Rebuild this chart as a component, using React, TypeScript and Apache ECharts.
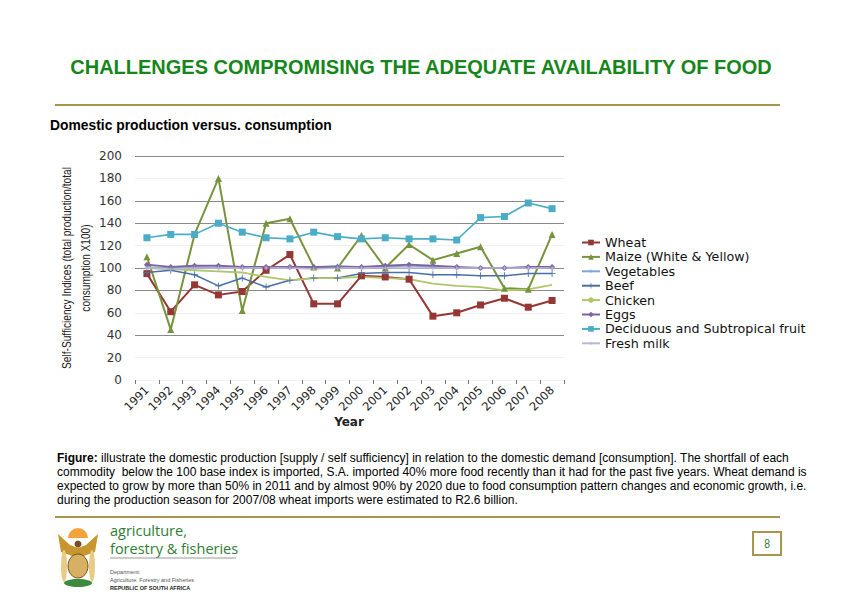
import React, { useEffect, useRef } from "react";
import * as echarts from "echarts";

const years = ["1991","1992","1993","1994","1995","1996","1997","1998","1999","2000","2001","2002","2003","2004","2005","2006","2007","2008"];
const yTicks = [0, 20, 40, 60, 80, 100, 120, 140, 160, 180, 200];

const wheat = [95, 61, 85, 76, 79, 98, 112, 68, 68, 93, 92, 90, 57, 60, 67, 73, 65, 71];
const maize = [110, 45, 130, 180, 62, 140, 144, 101, 100, 129, 100, 121, 107, 113, 119, 82, 81, 130];
const vegetables = [101, 100, 101, 100, 100, 101, 101, 101, 102, 101, 101, 102, 101, 100, 100, 100, 100, 101];
const beef = [96, 98, 94, 84, 91, 83, 89, 91, 91, 95, 96, 96, 94, 94, 93, 93, 95, 95];
const chicken = [100, 99, 98, 97, 96, 92, 89, 91, 91, 92, 91, 90, 86, 84, 83, 80, 81, 85];
const eggs = [103, 101, 102, 102, 101, 101, 101, 101, 101, 101, 102, 103, 102, 101, 100, 100, 101, 101];
const deciduous = [127, 130, 130, 140, 132, 127, 126, 132, 128, 126, 127, 126, 126, 125, 145, 146, 158, 153];
const freshMilk = [100, 99, 100, 100, 100, 100, 100, 99, 100, 100, 100, 100, 100, 100, 100, 100, 100, 100];

const captionLines = [
  "illustrate the domestic production [supply / self sufficiency] in relation to the domestic demand [consumption]. The shortfall of each",
  "commodity  below the 100 base index is imported, S.A. imported 40% more food recently than it had for the past five years. Wheat demand is",
  "expected to grow by more than 50% in 2011 and by almost 90% by 2020 due to food consumption pattern changes and economic growth, i.e.",
  "during the production season for 2007/08 wheat imports were estimated to R2.6 billion.",
];

const STAR = "path://M5,0L5.7,4.3L10,5L5.7,5.7L5,10L4.3,5.7L0,5L4.3,4.3Z M1.5,1.5L5.4,4.6L8.5,1.5L5.4,5.4L8.5,8.5L4.6,5.4L1.5,8.5L4.6,4.6Z";
const PLUS = "path://M4.4,0L5.6,0L5.6,4.4L10,4.4L10,5.6L5.6,5.6L5.6,10L4.4,10L4.4,5.6L0,5.6L0,4.4L4.4,4.4Z";

const SANS = "'Liberation Sans', Arial, sans-serif";
const WIDE = "'DejaVu Sans', Verdana, sans-serif";
const TAN = "#A89550";

export default function App() {
  const ref = useRef<HTMLDivElement>(null);
  useEffect(() => {
    if (!ref.current) return;
    const chart = echarts.init(ref.current, undefined, { renderer: "svg" });
    const gridColors = yTicks.map((v) => ([40, 80, 100, 140, 160, 200].includes(v) ? "#8a8a8a" : "#f0f0f0"));

    const mk = (name: string, data: number[], color: string, symbol: string, size: number, width: number) => ({
      name,
      type: "line",
      data,
      symbol,
      symbolSize: size,
      showSymbol: symbol !== "none",
      itemStyle: { color },
      lineStyle: { color, width },
      emphasis: { disabled: true },
    });

    const text = (t: string, x: number, y: number, o: any = {}) => ({
      type: "text",
      x,
      y,
      rotation: o.rotation || 0,
      scaleX: o.scaleX || 1,
      silent: true,
      style: {
        text: t,
        fill: o.fill || "#000",
        fontSize: o.fontSize || 12,
        fontWeight: o.fontWeight || "normal",
        fontFamily: o.fontFamily || SANS,
        align: o.align || "left",
        verticalAlign: o.verticalAlign || "middle",
      },
    });

    const cap = { fontSize: 12.5, scaleX: 0.96 };

    const graphics: any[] = [
      text("CHALLENGES COMPROMISING THE ADEQUATE AVAILABILITY OF FOOD", 421, 67, { fill: "#16861A", fontSize: 20, fontWeight: "bold", align: "center", scaleX: 1.0 }),
      { type: "line", silent: true, shape: { x1: 55, y1: 105, x2: 780, y2: 105 }, style: { stroke: TAN, lineWidth: 2 } },
      text("Domestic production versus. consumption", 50, 125, { fontSize: 14, fontWeight: "bold", scaleX: 0.99 }),
      text("Self-Sufficiency Indices (total production/total", 66, 268, { rotation: Math.PI / 2, align: "center", fontSize: 13, scaleX: 0.78, fill: "#222" }),
      text("consumption X100)", 85, 268, { rotation: Math.PI / 2, align: "center", fontSize: 13, scaleX: 0.78, fill: "#222" }),
      text("Year", 349, 422, { align: "center", fontSize: 12, fontWeight: "bold", fontFamily: WIDE, fill: "#222" }),
      text("Figure:", 57, 458, { ...cap, fontWeight: "bold" }),
      text(captionLines[0], 101, 458, cap),
      text(captionLines[1], 57, 472, cap),
      text(captionLines[2], 57, 486, cap),
      text(captionLines[3], 57, 500, cap),
      { type: "line", silent: true, shape: { x1: 55, y1: 517, x2: 780, y2: 517 }, style: { stroke: TAN, lineWidth: 2 } },
      // emblem approximation
      { type: "sector", silent: true, shape: { cx: 78, cy: 538, r0: 0, r: 10, startAngle: Math.PI, endAngle: 2 * Math.PI }, style: { fill: "#F2A33A" } },
      { type: "polygon", silent: true, shape: { points: [[58, 534], [70, 545], [78, 548], [86, 545], [98, 534], [95, 552], [78, 558], [61, 552]] }, style: { fill: "#C8962E" } },
      { type: "circle", silent: true, shape: { cx: 78, cy: 544, r: 3.5 }, style: { fill: "#7A4E22" } },
      { type: "ellipse", silent: true, shape: { cx: 64, cy: 566, rx: 3, ry: 16 }, style: { fill: "#E8CC86" } },
      { type: "ellipse", silent: true, shape: { cx: 92, cy: 566, rx: 3, ry: 16 }, style: { fill: "#E8CC86" } },
      { type: "ellipse", silent: true, shape: { cx: 78, cy: 566, rx: 10, ry: 12 }, style: { fill: "#D8B064", stroke: "#7A4E22", lineWidth: 1 } },
      { type: "ellipse", silent: true, shape: { cx: 78, cy: 583, rx: 14, ry: 4 }, style: { fill: "#3C8A3C" } },
      text("agriculture,", 110, 530.5, { fontSize: 14.5, fontFamily: "'Open Sans', sans-serif", fill: "#2F7E33" }),
      text("forestry & fisheries", 110, 548, { fontSize: 14.5, fontFamily: "'Open Sans', sans-serif", fill: "#2F7E33" }),
      { type: "line", silent: true, shape: { x1: 110, y1: 558, x2: 236, y2: 558 }, style: { stroke: "#999", lineWidth: 1 } },
      text("Department:", 110, 572, { fontSize: 5.5, fill: "#555" }),
      text("Agriculture, Forestry and Fisheries", 110, 580, { fontSize: 5.5, fill: "#555" }),
      text("REPUBLIC OF SOUTH AFRICA", 110, 588, { fontSize: 5.5, fill: "#222", fontWeight: "bold" }),
      { type: "rect", silent: true, shape: { x: 753, y: 532, width: 28, height: 23 }, style: { fill: "none", stroke: TAN, lineWidth: 2 } },
      text("8", 767, 544, { align: "center", fontSize: 12, scaleX: 0.86, fill: "#2F7E33" }),
    ];

    chart.setOption({
      animation: false,
      backgroundColor: "#ffffff",
      grid: { left: 135, right: 278, top: 156, bottom: 215, containLabel: false },
      legend: {
        orient: "vertical",
        left: 576,
        top: 231,
        itemWidth: 18,
        itemHeight: 7,
        itemGap: 1.4,
        textStyle: { fontSize: 12.7, lineHeight: 12, color: "#111", fontFamily: WIDE },
        data: ["Wheat", "Maize (White & Yellow)", "Vegetables", "Beef", "Chicken", "Eggs", "Deciduous and Subtropical fruit", "Fresh milk"],
      },
      xAxis: {
        type: "category",
        data: years,
        boundaryGap: true,
        axisLine: { show: false },
        axisTick: { show: true, length: 4, lineStyle: { color: "#777" } },
        axisLabel: { rotate: 45, fontSize: 11.5, color: "#222", margin: 8, fontFamily: WIDE, interval: 0 },
      },
      yAxis: {
        type: "value",
        min: 0,
        max: 200,
        interval: 20,
        axisLine: { show: false },
        axisTick: { show: false },
        axisLabel: { fontSize: 12, color: "#333", margin: 13, fontFamily: WIDE },
        splitLine: { show: true, lineStyle: { color: gridColors, width: 1 } },
      },
      series: [
        mk("Wheat", wheat, "#953735", "rect", 7, 2),
        mk("Maize (White & Yellow)", maize, "#77933C", "triangle", 7, 2),
        mk("Vegetables", vegetables, "#7FA6D6", STAR, 7, 1.5),
        mk("Beef", beef, "#4A6FA5", PLUS, 7, 1.5),
        mk("Chicken", chicken, "#AFC66A", "none", 4, 1.8),
        mk("Eggs", eggs, "#7D64A0", "diamond", 6, 1.8),
        mk("Deciduous and Subtropical fruit", deciduous, "#4BACC6", "rect", 7, 1.6),
        mk("Fresh milk", freshMilk, "#BDB5D8", STAR, 7, 1.5),
      ],
      graphic: { elements: graphics },
    });
    return () => chart.dispose();
  }, []);
  return <div ref={ref} style={{ position: "absolute", left: 0, top: 0, width: 842, height: 595 }} />;
}
